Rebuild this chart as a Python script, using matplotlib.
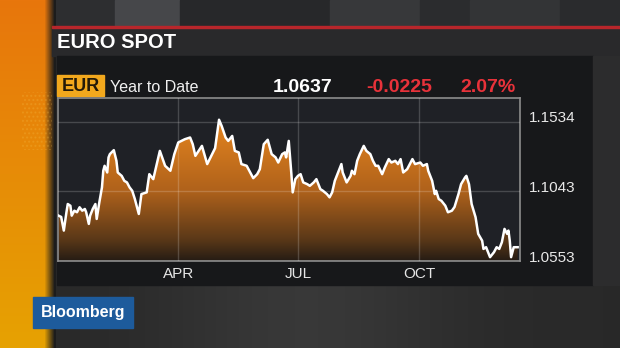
import numpy as np
import matplotlib
matplotlib.use('Agg')
import matplotlib.pyplot as plt
from matplotlib.patches import Rectangle, Polygon
from matplotlib.colors import LinearSegmentedColormap, to_rgb
from matplotlib.transforms import ScaledTranslation

plt.rcParams['font.family'] = ['Liberation Sans', 'DejaVu Sans']

# ---------------- data ----------------
title = 'EURO SPOT'
ticker = 'EUR'
period = 'Year to Date'
last_price = '1.0637'
net_change = '-0.0225'
pct_change = '2.07%'
brand = 'Bloomberg'

# day of year (0 = Jan 1) and EUR/USD spot
days = [0, 2, 4, 6, 7, 9, 10, 12, 14, 16, 18, 20, 21, 23, 24, 26, 28, 29, 31, 33,
        34, 35, 37, 38, 39, 42, 44, 45, 48, 50, 52, 54, 56, 58, 61, 63, 67, 69, 72, 77,
        81, 85, 88, 91, 96, 100, 102, 104, 109, 113, 119, 122, 124, 127, 129, 132, 134, 137, 139, 143,
        146, 148, 151, 153, 156, 159, 162, 165, 167, 170, 172, 173, 175, 177, 178, 180, 182, 184, 186, 189,
        191, 194, 196, 199, 201, 204, 206, 208, 210, 213, 215, 216, 219, 222, 223, 225, 227, 229, 232, 234,
        237, 239, 241, 243, 246, 248, 251, 253, 256, 258, 260, 262, 265, 267, 269, 271, 275, 277, 280, 281,
        284, 286, 287, 289, 291, 294, 296, 299, 301, 304, 306, 309, 310, 312, 314, 317, 319, 322, 323, 325,
        328, 331, 333, 335, 337, 339, 341, 342, 343, 344, 346, 349]
rates = [1.0872, 1.0863, 1.0767, 1.0896, 1.0954, 1.0942, 1.0872, 1.0907, 1.0896, 1.0931,
         1.0907, 1.0919, 1.0896, 1.0814, 1.0872, 1.0919, 1.0954, 1.0849, 1.0966, 1.1071,
         1.1188, 1.1223, 1.1176, 1.1282, 1.1305, 1.1333, 1.1258, 1.1176, 1.1152, 1.1117,
         1.1106, 1.1071, 1.1047, 1.0989, 1.0884, 1.1024, 1.1036, 1.1164, 1.1129, 1.1328,
         1.1223, 1.1188, 1.1305, 1.1387, 1.1410, 1.1422, 1.1375, 1.1293, 1.1363, 1.1235,
         1.1347, 1.1547, 1.1503, 1.1422, 1.1398, 1.1433, 1.1328, 1.1317, 1.1235, 1.1223,
         1.1171, 1.1136, 1.1164, 1.1199, 1.1375, 1.1406, 1.1305, 1.1282, 1.1246, 1.1305,
         1.1317, 1.1282, 1.1398, 1.1164, 1.1036, 1.1129, 1.1152, 1.1164, 1.1106, 1.1094,
         1.1082, 1.1106, 1.1129, 1.1059, 1.1047, 1.1024, 1.1001, 1.1036, 1.1117, 1.1188,
         1.1235, 1.1176, 1.1106, 1.1152, 1.1188, 1.1164, 1.1258, 1.1305, 1.1363, 1.1328,
         1.1305, 1.1258, 1.1223, 1.1223, 1.1164, 1.1211, 1.1270, 1.1246, 1.1258, 1.1235,
         1.1270, 1.1176, 1.1199, 1.1235, 1.1270, 1.1235, 1.1246, 1.1223, 1.1235, 1.1188,
         1.1117, 1.1024, 1.1047, 1.0989, 1.0977, 1.0942, 1.0896, 1.0907, 1.0933, 1.1024,
         1.1094, 1.1141, 1.1152, 1.1094, 1.0954, 1.0861, 1.0744, 1.0696, 1.0638, 1.0650,
         1.0580, 1.0615, 1.0650, 1.0638, 1.0685, 1.0779, 1.0744, 1.0767, 1.0696, 1.0580,
         1.0650, 1.0650]

month_ticks = [91, 182, 274]
month_labels = ['APR', 'JUL', 'OCT']
y_ticks = [1.0553, 1.1043, 1.1534]
y_labels = ['1.0553', '1.1043', '1.1534']

x_range = (-0.8, 350.4)
y_range = (1.0553, 1.1700)

# ---------------- figure / backdrop ----------------
W, H = 620, 348
fig = plt.figure(figsize=(6.2, 3.48), dpi=100)
bg = fig.add_axes([0, 0, 1, 1], zorder=0)
bg.set_xlim(0, W)
bg.set_ylim(H, 0)
bg.axis('off')

bg.add_patch(Rectangle((0, 0), W, H, color='#2a2a2b', zorder=0))
# studio stripes at the top
for x0, x1, c in [(50, 115, '#2d2e30'), (115, 180, '#46474a'), (180, 330, '#27282a'),
                  (330, 420, '#37383a'), (420, 470, '#2b2c2e'), (470, 560, '#333436'),
                  (560, 620, '#2a2b2d')]:
    bg.add_patch(Rectangle((x0, 0), x1 - x0, 27, color=c, zorder=1))

# bottom area with soft horizontal variation
bot = np.ones((10, 300, 3))
xs = np.linspace(0, 1, 300)
shade = 0.16 + 0.06 * np.exp(-((xs - 0.45) / 0.25) ** 2)
bot *= shade[None, :, None]
bg.imshow(bot, extent=[50, 620, 348, 285], aspect='auto', zorder=1)

# orange vertical band on the left
ny, nx = 348, 56
top_c = np.array(to_rgb('#e8760c'))
bot_c = np.array(to_rgb('#e6a202'))
t = np.linspace(0, 1, ny)[:, None, None]
band = top_c * (1 - t) + bot_c * t
band = np.repeat(band, nx, axis=1)
xx = np.arange(nx)
fade = np.clip((xx - 44) / 10.0, 0, 1)
dark = np.array(to_rgb('#1c1c1c'))
band = band * (1 - fade)[None, :, None] + dark * fade[None, :, None]
bg.imshow(band, extent=[0, 56, 348, 0], aspect='auto', zorder=2)
bg.add_patch(Rectangle((22, 92), 30, 58, facecolor='none', edgecolor='#f6c04a',
                       hatch='....', lw=0, alpha=0.22, zorder=3))

# header bar and red rule
bg.add_patch(Rectangle((52, 27), W - 52, 29, color='#29292b', zorder=4))
bg.add_patch(Rectangle((52, 25.5), W - 52, 2.2, color='#b8262b', zorder=5))
# chart panel
bg.add_patch(Rectangle((57, 56), 536, 229, color='#17181a', zorder=4))
bg.add_patch(Rectangle((593, 56), 27, 229, color='#2c2c2d', zorder=4))

bg.text(57, 42, title, color='white', fontsize=14.5, fontweight='bold',
        ha='left', va='center', zorder=6)

bg.add_patch(Rectangle((57, 75), 47, 21, color='#f2a81d', zorder=6))
bg.text(80.5, 86.5, ticker, color='#241a08', fontsize=13, fontweight='bold',
        ha='center', va='center', zorder=7)
bg.text(110, 87.5, period, color='#f0f0f0', fontsize=11.5,
        ha='left', va='center', zorder=7)
bg.text(332, 87, last_price, color='white', fontsize=14, fontweight='bold',
        ha='right', va='center', zorder=7)
bg.text(432, 87, net_change, color='#e8323a', fontsize=14, fontweight='bold',
        ha='right', va='center', zorder=7)
bg.text(516, 87, pct_change, color='#e8323a', fontsize=14, fontweight='bold',
        ha='right', va='center', zorder=7)

bg.add_patch(Rectangle((33, 297), 100, 31, color='#1d5b9c', zorder=6))
bg.text(83, 313, brand, color='white', fontsize=11.5, fontweight='bold',
        ha='center', va='center', zorder=7)

# ---------------- chart ----------------
left, right, top, bottom = 57.5, 519.5, 98, 261
ax = fig.add_axes([left / W, 1 - bottom / H, (right - left) / W, (bottom - top) / H], zorder=2)
ax.set_facecolor('#1f2126')

cmap = LinearSegmentedColormap.from_list(
    'eurfill', [(0.0, '#261c14'), (0.15, '#5a3818'), (0.5, '#b0621b'), (1.0, '#e5851f')])
grad = np.linspace(0, 1, 256).reshape(-1, 1)
im = ax.imshow(grad, extent=[x_range[0], x_range[1], y_range[0], 1.155],
               origin='lower', aspect='auto', cmap=cmap, zorder=1)
verts = list(zip(days, rates)) + [(days[-1], y_range[0]), (days[0], y_range[0])]
poly = Polygon(verts, closed=True, facecolor='none', edgecolor='none')
ax.add_patch(poly)
im.set_clip_path(poly)

ax.plot(days, rates, color='white', lw=1.8, solid_joinstyle='round', zorder=3)

ax.set_xlim(*x_range)
ax.set_ylim(*y_range)

ax.set_xticks(month_ticks)
ax.set_xticklabels(month_labels)
ax.set_yticks(y_ticks)
ax.set_yticklabels([])
ax.tick_params(axis='both', length=0)
ax.tick_params(axis='x', colors='#e6e6e6', labelsize=11, pad=4)
ax.set_axisbelow(False)
ax.grid(True, color='white', alpha=0.18, lw=1)

off = ScaledTranslation(0, 3.5 / 100, fig.dpi_scale_trans)
for v, lab in zip(y_ticks, y_labels):
    ax.text(1.0206, v, lab, transform=ax.get_yaxis_transform() + off,
            color='#e8e8e8', fontsize=11, ha='left', va='center', clip_on=False)

for s in ax.spines.values():
    s.set_color('#8c8c8c')
    s.set_linewidth(1.2)

fig.savefig('out.png', dpi=100)
